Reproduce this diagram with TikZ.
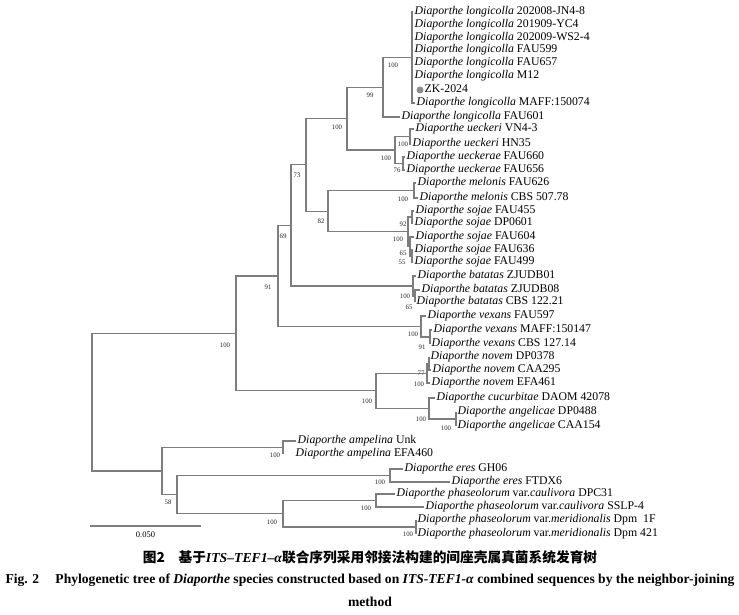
\documentclass[tikz,border=0pt]{standalone}
\usepackage{fontspec}
\setmainfont{Liberation Serif}
\newfontfamily\cjk{Noto Sans CJK SC}
\definecolor{brgray}{RGB}{125,125,125}
\definecolor{dotgray}{RGB}{140,140,140}
\newcommand\dia[1]{\textit{Diaporthe #1}}
\begin{document}
\begin{tikzpicture}[x=1pt,y=-1pt,
  br/.style={draw=brgray, line width=1.1pt},
  tx/.style={anchor=west, inner sep=1.5pt, font=\fontsize{11.8}{11.8}\selectfont, text height=8pt, text depth=2.6pt},
  bs/.style={font=\fontsize{6.8}{6.8}\selectfont, inner sep=0pt, text=black!85}]
\useasboundingbox (0,0) rectangle (739,615);
% internal nodes
\coordinate (A) at (412,57.5);
\coordinate (B) at (383,87.25);
\coordinate (E) at (410,136.5);
\coordinate (F) at (403,163.5);
\coordinate (D) at (395,150);
\coordinate (C) at (347,118.6);
\coordinate (G) at (414,190.5);
\coordinate (I) at (412,217);
\coordinate (K) at (412,256);
\coordinate (J) at (410,246.5);
\coordinate (H) at (408,231.75);
\coordinate (n82) at (328,211.1);
\coordinate (n73) at (306,164.9);
\coordinate (M) at (415,296);
\coordinate (L) at (413,286);
\coordinate (n69) at (291,225.4);
\coordinate (O) at (430,337);
\coordinate (N) at (421,326.5);
\coordinate (n91) at (278,276);
\coordinate (R) at (429,363.5);
\coordinate (Q) at (427,373.25);
\coordinate (T) at (456,419);
\coordinate (S) at (429,408.5);
\coordinate (P) at (376,390.9);
\coordinate (n236) at (236,333.4);
\coordinate (U) at (283,447.5);
\coordinate (V) at (390,475.5);
\coordinate (W) at (376,500.5);
\coordinate (X) at (416,527);
\coordinate (Y) at (283,513.75);
\coordinate (n177) at (177,494.6);
\coordinate (n162) at (162,471);
\coordinate (root) at (92,402.2);
% leaves
\node[tx] (l1) at (413,12) {\dia{longicolla} 202008-JN4-8};
\node[tx] (l2) at (413,25) {\dia{longicolla} 201909-YC4};
\node[tx] (l3) at (413,38) {\dia{longicolla} 202009-WS2-4};
\node[tx] (l4) at (413,50) {\dia{longicolla} FAU599};
\node[tx] (l5) at (413,63) {\dia{longicolla} FAU657};
\node[tx] (l6) at (413,76) {\dia{longicolla} M12};
\node[circle, fill=dotgray, inner sep=0pt, minimum size=7pt] (zk) at (420,90) {};
\node[tx] (l7) at (423,90) {ZK-2024};
\node[tx] (l8) at (415,103) {\dia{longicolla} MAFF:150074};
\node[tx] (l9) at (400,117) {\dia{longicolla} FAU601};
\node[tx] (l10) at (414,129) {\dia{ueckeri} VN4-3};
\node[tx] (l11) at (411,144) {\dia{ueckeri} HN35};
\node[tx] (l12) at (405,157) {\dia{ueckerae} FAU660};
\node[tx] (l13) at (405,170) {\dia{ueckerae} FAU656};
\node[tx] (l14) at (416,183) {\dia{melonis} FAU626};
\node[tx] (l15) at (418,198) {\dia{melonis} CBS 507.78};
\node[tx] (l16) at (414,211) {\dia{sojae} FAU455};
\node[tx] (l17) at (413,223) {\dia{sojae} DP0601};
\node[tx] (l18) at (414,237) {\dia{sojae} FAU604};
\node[tx] (l19) at (413,250) {\dia{sojae} FAU636};
\node[tx] (l20) at (413,262) {\dia{sojae} FAU499};
\node[tx] (l21) at (416,276) {\dia{batatas} ZJUDB01};
\node[tx] (l22) at (420,290) {\dia{batatas} ZJUDB08};
\node[tx] (l23) at (415,302) {\dia{batatas} CBS 122.21};
\node[tx] (l24) at (426,316) {\dia{vexans} FAU597};
\node[tx] (l25) at (432,330) {\dia{vexans} MAFF:150147};
\node[tx] (l26) at (430,344) {\dia{vexans} CBS 127.14};
\node[tx] (l27) at (429,357) {\dia{novem} DP0378};
\node[tx] (l28) at (431,370) {\dia{novem} CAA295};
\node[tx] (l29) at (430,383) {\dia{novem} EFA461};
\node[tx] (l30) at (435,398) {\dia{cucurbitae} DAOM 42078};
\node[tx] (l31) at (456,412) {\dia{angelicae} DP0488};
\node[tx] (l32) at (456,426) {\dia{angelicae} CAA154};
\node[tx] (l33) at (296,441) {\dia{ampelina} Unk};
\coordinate (t34) at (283,454);
\node[tx] (l34) at (294,454) {\dia{ampelina} EFA460};
\node[tx] (l35) at (403,469) {\dia{eres} GH06};
\node[tx] (l36) at (450,482) {\dia{eres} FTDX6};
\node[tx] (l37) at (395,494) {\dia{phaseolorum} var.\textit{caulivora} DPC31};
\node[tx] (l38) at (424,507) {\dia{phaseolorum} var.\textit{caulivora} SSLP-4};
\node[tx] (l39) at (416,520) {\dia{phaseolorum} var.\textit{meridionalis} Dpm\ \ 1F};
\node[tx] (l40) at (416,534) {\dia{phaseolorum} var.\textit{meridionalis} Dpm 421};
% branches
\foreach \c in {l1,l2,l3,l4,l5,l6,l8} \draw[br] (A) |- (\c.west);
\draw[br] (B) |- (A); \draw[br] (B) |- (l9.west);
\draw[br] (E) |- (l10.west); \draw[br] (E) |- (l11.west);
\draw[br] (F) |- (l12.west); \draw[br] (F) |- (l13.west);
\draw[br] (D) |- (E); \draw[br] (D) |- (F);
\draw[br] (C) |- (B); \draw[br] (C) |- (D);
\draw[br] (G) |- (l14.west); \draw[br] (G) |- (l15.west);
\draw[br] (I) |- (l16.west); \draw[br] (I) |- (l17.west);
\draw[br] (K) |- (l19.west); \draw[br] (K) |- (l20.west);
\draw[br] (J) |- (l18.west); \draw[br] (J) |- (K);
\draw[br] (H) |- (I); \draw[br] (H) |- (J);
\draw[br] (n82) |- (G); \draw[br] (n82) |- (H);
\draw[br] (n73) |- (C); \draw[br] (n73) |- (n82);
\draw[br] (M) |- (l22.west); \draw[br] (M) |- (l23.west);
\draw[br] (L) |- (l21.west); \draw[br] (L) |- (M);
\draw[br] (n69) |- (n73); \draw[br] (n69) |- (L);
\draw[br] (O) |- (l25.west); \draw[br] (O) |- (l26.west);
\draw[br] (N) |- (l24.west); \draw[br] (N) |- (O);
\draw[br] (n91) |- (n69); \draw[br] (n91) |- (N);
\draw[br] (R) |- (l27.west); \draw[br] (R) |- (l28.west);
\draw[br] (Q) |- (R); \draw[br] (Q) |- (l29.west);
\draw[br] (T) |- (l31.west); \draw[br] (T) |- (l32.west);
\draw[br] (S) |- (l30.west); \draw[br] (S) |- (T);
\draw[br] (P) |- (Q); \draw[br] (P) |- (S);
\draw[br] (n236) |- (n91); \draw[br] (n236) |- (P);
\draw[br] (U) |- (l33.west); \draw[br] (U) |- (t34);
\draw[br] (V) |- (l35.west); \draw[br] (V) |- (l36.west);
\draw[br] (W) |- (l37.west); \draw[br] (W) |- (l38.west);
\draw[br] (X) |- (l39.west); \draw[br] (X) |- (l40.west);
\draw[br] (Y) |- (W); \draw[br] (Y) |- (X);
\draw[br] (n177) |- (V); \draw[br] (n177) |- (Y);
\draw[br] (n162) |- (U); \draw[br] (n162) |- (n177);
\draw[br] (root) |- (n236); \draw[br] (root) |- (n162);
% bootstrap values
\node[bs] (bA) at (393,65) {100};
\node[bs] (bB) at (370,95) {99};
\node[bs] (bC) at (337,127) {100};
\node[bs] (b73) at (297,175) {73};
\node[bs] (b82) at (321,221) {82};
\node[bs] (b69) at (283,236) {69};
\node[bs] (b91) at (268,287) {91};
\node[bs] (b236) at (225,345) {100};
\node[bs] (bD) at (386,158) {100};
\node[bs] (bE) at (403,144) {100};
\node[bs] (bF) at (397,170) {76};
\node[bs] (bG) at (403,199) {100};
\node[bs] (bI) at (403,224) {92};
\node[bs] (bH) at (398,239) {100};
\node[bs] (bJ) at (403,253) {65};
\node[bs] (bK) at (402,262) {55};
\node[bs] (bL) at (405,296) {100};
\node[bs] (bM) at (409,307) {65};
\node[bs] (bN) at (413,334) {100};
\node[bs] (bO) at (422,347) {91};
\node[bs] (bR) at (421,373) {77};
\node[bs] (bQ) at (419,384) {100};
\node[bs] (bP) at (367,401) {100};
\node[bs] (bS) at (421,419) {100};
\node[bs] (bT) at (446,428) {100};
\node[bs] (bU) at (275,455) {100};
\node[bs] (b58) at (168,502) {58};
\node[bs] (bV) at (380,482) {100};
\node[bs] (bW) at (366,508) {100};
\node[bs] (bY) at (272,522) {100};
\node[bs] (bX) at (408,534) {100};
% scale bar
\coordinate (sb1) at (90,526);
\coordinate (sb2) at (201,526);
\draw[br] (sb1) -- (sb2);
\node[font=\fontsize{8.5}{8.5}\selectfont, inner sep=0pt] (sbl) at (145.5,535) {0.050};
% caption
\node[font=\cjk\bfseries\fontsize{13.7}{15}\selectfont, inner sep=0pt] (cap1) at (370,557)
  {图2\hspace{1em}基于{\rmfamily\bfseries\itshape ITS–TEF1–α}联合序列采用邻接法构建的间座壳属真菌系统发育树};
\node[font=\bfseries\fontsize{13.6}{15}\selectfont, inner sep=0pt] (cap2) at (370,580)
  {Fig. 2\hspace{1.2em}Phylogenetic tree of \textit{Diaporthe} species constructed based on \textit{ITS-TEF1-α} combined sequences by the neighbor-joining};
\node[font=\bfseries\fontsize{13.6}{15}\selectfont, inner sep=0pt] (cap3) at (370,602) {method};
\end{tikzpicture}
\end{document}
